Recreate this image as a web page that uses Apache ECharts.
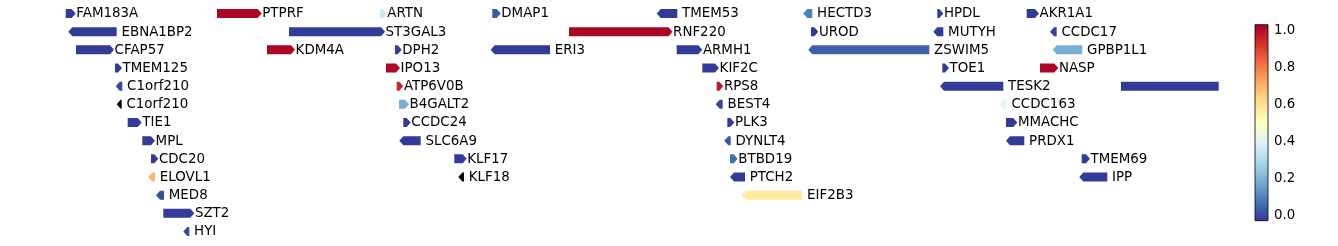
<!DOCTYPE html>
<html>
<head>
<meta charset="utf-8">
<script src="https://cdn.jsdelivr.net/npm/echarts@6/dist/echarts.min.js"></script>
<style>
  html, body { margin: 0; padding: 0; background: #fff; }
  #chart { width: 1338px; height: 246px; }
</style>
</head>
<body>
<div id="chart"></div>
<script>
// ---- data (positions, in track units) ----
const GENE_NAMES = [
  'FAM183A','PTPRF','ARTN','DMAP1','TMEM53','HECTD3','HPDL','AKR1A1',
  'EBNA1BP2','ST3GAL3','RNF220','UROD','MUTYH','CCDC17',
  'CFAP57','KDM4A','DPH2','ERI3','ARMH1','ZSWIM5','GPBP1L1',
  'TMEM125','IPO13','KIF2C','TOE1','NASP',
  'C1orf210','ATP6V0B','RPS8','TESK2','',
  'C1orf210','B4GALT2','BEST4','CCDC163',
  'TIE1','CCDC24','PLK3','MMACHC',
  'MPL','SLC6A9','DYNLT4','PRDX1',
  'CDC20','KLF17','BTBD19','TMEM69',
  'ELOVL1','KLF18','PTCH2','IPP',
  'MED8','EIF2B3',
  'SZT2',
  'HYI'
];
const GENE_START = [
  65.7,217,380,492.3,656.7,803.3,937.3,1026.7,
  68.3,289,569,811,933.3,1050,
  76,267,395,490.7,676.7,808.3,1052.7,
  115,386,702.3,942.3,1040,
  115.7,396.7,716.7,940,1121,
  116.7,399,715.7,999,
  127.7,403.3,727.3,1006,
  142.3,399.3,724.3,1006,
  151,454.3,730,1081.7,
  148.3,458.3,730,1079.3,
  156,741.7,
  163.3,
  183.3
];
const GENE_END = [
  75.7,261.7,386.7,500.7,677.3,812.3,943.3,1039,
  116.7,385,672.5,818.3,943.3,1056.7,
  114,295,401.7,550,702.3,929.3,1082.3,
  122,400,719,949,1058.3,
  122.3,403.3,723.3,1003.3,1218.7,
  121.7,409,722.7,1006.7,
  141.7,410.7,734.3,1017.3,
  155,420.7,730.7,1024.3,
  158.3,466.7,737.7,1090,
  155,464,745,1107.3,
  164,802.3,
  194.3,
  189.3
];
const GENE_ROW = [
  0,0,0,0,0,0,0,0,
  1,1,1,1,1,1,
  2,2,2,2,2,2,2,
  3,3,3,3,3,
  4,4,4,4,4,
  5,5,5,5,
  6,6,6,6,
  7,7,7,7,
  8,8,8,8,
  9,9,9,9,
  10,10,
  11,
  12
];
// 1 = forward, -1 = reverse, 0 = truncated (no arrow head)
const GENE_STRAND = [
  1,1,1,1,-1,-1,1,1,
  -1,1,1,1,-1,-1,
  1,1,1,-1,1,-1,-1,
  1,1,1,1,1,
  -1,1,1,-1,0,
  -1,1,-1,-1,
  1,1,1,1,
  1,-1,-1,-1,
  1,1,1,1,
  -1,-1,-1,-1,
  -1,-1,
  1,
  -1
];
// null = no value (drawn black)
const GENE_VALUE = [
  -0.02,1.02,0.35,0.03,-0.02,0.1,-0.02,-0.02,
  -0.02,-0.02,1.02,-0.02,-0.02,-0.01,
  -0.02,1.02,-0.02,-0.02,-0.02,0.04,0.19,
  -0.02,1.02,-0.02,-0.02,1.02,
  0.0,0.95,0.98,-0.02,-0.02,
  null,0.19,0.0,0.42,
  -0.02,-0.02,-0.02,-0.02,
  -0.02,-0.02,0.02,-0.02,
  -0.02,-0.02,0.07,-0.02,
  0.7,null,-0.02,-0.02,
  0.01,0.57,
  -0.02,
  0.0
];
const CBAR_TICKS = [0.0, 0.2, 0.4, 0.6, 0.8, 1.0];
const CBAR_MIN = -0.029;
const CBAR_MAX = 1.0325;
const RDYLBU_R = ['#313695','#4575b4','#74add1','#abd9e9','#e0f3f8','#ffffbf',
                  '#fee090','#fdae61','#f46d43','#d73027','#a50026'];

// ---- build ----
const geneData = GENE_NAMES.map((n, i) => [
  GENE_START[i], GENE_END[i], GENE_ROW[i], GENE_STRAND[i],
  GENE_VALUE[i] == null ? '-' : GENE_VALUE[i]
]);

const ARROW_H = 9;
const HEAD = 4;
const FONT = '13.4px "DejaVu Sans"';

function renderGene(params, api) {
  const i = params.dataIndex;
  const row = api.value(2);
  const s = api.coord([api.value(0), row]);
  const e = api.coord([api.value(1), row]);
  const strand = api.value(3);
  const val = GENE_VALUE[i];
  const y = s[1], h = ARROW_H / 2;
  const x0 = s[0], x1 = e[0];
  const w = x1 - x0;
  const head = Math.min(HEAD, w);
  let pts;
  if (strand > 0) {
    pts = [[x0, y - h], [x1 - head, y - h], [x1, y], [x1 - head, y + h], [x0, y + h]];
  } else if (strand < 0) {
    pts = [[x1, y - h], [x0 + head, y - h], [x0, y], [x0 + head, y + h], [x1, y + h]];
  } else {
    pts = [[x0, y - h], [x1, y - h], [x1, y + h], [x0, y + h]];
  }
  const color = (val == null) ? '#000000' : api.visual('color');
  const children = [{
    type: 'polygon',
    shape: { points: pts },
    style: { fill: color, stroke: null }
  }];
  const name = GENE_NAMES[i];
  if (name) {
    children.push({
      type: 'text',
      style: {
        text: name,
        x: x1 + (strand > 0 ? 0.6 : 4.8),
        y: y + 0.5,
        fill: '#000',
        font: FONT,
        textAlign: 'left',
        textVerticalAlign: 'middle'
      }
    });
  }
  return { type: 'group', children };
}

function renderCbar(params, api) {
  const top = api.coord([0, CBAR_MAX]);
  const bot = api.coord([1, CBAR_MIN]);
  const stops = RDYLBU_R.slice().reverse().map((c, k) => ({ offset: k / (RDYLBU_R.length - 1), color: c }));
  return {
    type: 'rect',
    shape: { x: top[0], y: top[1], width: bot[0] - top[0], height: bot[1] - top[1] },
    style: {
      fill: new echarts.graphic.LinearGradient(0, 0, 0, 1, stops),
      stroke: '#000',
      lineWidth: 0.8
    }
  };
}

const chart = echarts.init(document.getElementById('chart'), null, { renderer: 'canvas' });
chart.setOption({
  animation: false,
  backgroundColor: '#fff',
  grid: [
    { left: 0, top: 4.4, width: 1230, height: 236.2 },
    { left: 1255, top: 24.7, width: 13, height: 196 }
  ],
  xAxis: [
    { gridIndex: 0, type: 'value', min: 0, max: 1230, show: false },
    { gridIndex: 1, type: 'value', min: 0, max: 1, show: false }
  ],
  yAxis: [
    { gridIndex: 0, type: 'value', min: -0.5, max: 12.5, inverse: true, show: false },
    {
      gridIndex: 1, type: 'value', position: 'right',
      min: CBAR_MIN, max: CBAR_MAX,
      axisLine: { show: false },
      splitLine: { show: false },
      axisTick: { show: true, length: 3.5, inside: false, customValues: CBAR_TICKS,
                  lineStyle: { color: '#000', width: 0.8 } },
      axisLabel: { show: true, customValues: CBAR_TICKS, margin: 6,
                   formatter: v => Number(v).toFixed(1),
                   color: '#000', fontSize: 13.33, fontFamily: 'DejaVu Sans' }
    }
  ],
  visualMap: {
    type: 'continuous', show: false, seriesIndex: 0, dimension: 4,
    min: CBAR_MIN, max: CBAR_MAX,
    inRange: { color: RDYLBU_R },
    outOfRange: { color: '#000000' }
  },
  series: [
    {
      type: 'custom', xAxisIndex: 0, yAxisIndex: 0,
      renderItem: renderGene, data: geneData, clip: false,
      encode: { x: [0, 1], y: 2 }
    },
    {
      type: 'custom', xAxisIndex: 1, yAxisIndex: 1,
      renderItem: renderCbar, data: [[0, 1, CBAR_MIN, CBAR_MAX]],
      encode: { x: [0, 1], y: [2, 3] }
    }
  ]
});
</script>
</body>
</html>
